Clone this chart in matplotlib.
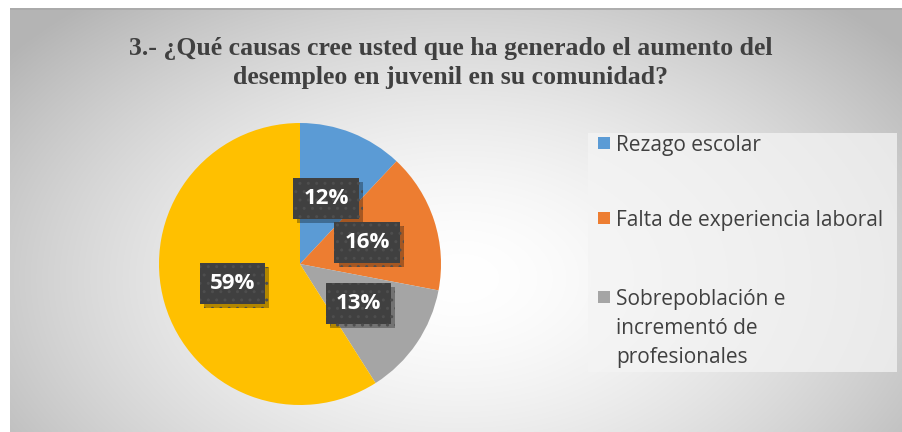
import numpy as np
import matplotlib
matplotlib.use("Agg")
import matplotlib.pyplot as plt
from matplotlib.patches import Rectangle
import matplotlib.patheffects as pe

title = "3.- ¿Qué causas cree usted que ha generado el aumento del\ndesempleo en juvenil en su comunidad?"
categories = ["Rezago escolar", "Falta de experiencia laboral",
              "Sobrepoblación e\nincrementó de\nprofesionales", "Otros"]
values = [12, 16, 13, 59]
labels = ["12%", "16%", "13%", "59%"]
colors = ["#5B9BD5", "#ED7D31", "#A5A5A5", "#FFC000"]
legend_count = 3  # only three entries visible in the reference legend

W, H = 903, 432
fig = plt.figure(figsize=(W / 100, H / 100), dpi=100)
fig.patch.set_facecolor("white")

# background radial gradient panel
x0, y0 = 10, 8
bg = fig.add_axes([x0 / W, 0, 1 - x0 / W, 1 - y0 / H])
bg.set_axis_off()
bh, bw = H - y0, W - x0
yy, xx = np.mgrid[0:bh, 0:bw]
d = np.sqrt(((xx - 450) / 520.0) ** 2 + ((yy - 270) / 330.0) ** 2)
v = 1 - 0.25 * np.clip(d, 0, 1.1) ** 1.6
img = np.dstack([v, v, v])
bg.imshow(img, aspect="auto", extent=[0, 1, 0, 1], origin="upper")
bg.set_xlim(0, 1)
bg.set_ylim(0, 1)
bg.plot([0, 1], [0.997, 0.997], color="#a8a8a8", lw=1.2, transform=bg.transAxes)

# legend area lighter panel
lg = fig.add_axes([588 / W, (H - 372) / H, (897 - 588) / W, (372 - 133) / H])
lg.set_axis_off()
lg.set_xlim(0, 1)
lg.set_ylim(0, 1)
lg.add_patch(Rectangle((0, 0), 1, 1, transform=lg.transAxes,
                       facecolor="#f4f4f4", edgecolor="none", alpha=0.75))

fig.text(451 / W, 1 - 63 / H, title, ha="center", va="center",
         family="Liberation Serif", fontweight="bold", fontsize=18.5,
         color="#404040", linespacing=1.35)

# pie
cx, cy, r = 300, 264, 141
ax = fig.add_axes([(cx - r) / W, (H - cy - r) / H, 2 * r / W, 2 * r / H])
ax.set_aspect("equal")
wedges, _ = ax.pie(values, colors=colors, startangle=90, counterclock=False,
                   radius=1.0, wedgeprops=dict(linewidth=0))
ax.set_xlim(-1, 1)
ax.set_ylim(-1, 1)

for w, lab in zip(wedges, labels):
    ang = np.deg2rad((w.theta1 + w.theta2) / 2)
    px, py = 0.5 * np.cos(ang), 0.5 * np.sin(ang)
    t = ax.text(px, py, lab, ha="center", va="center",
                fontsize=16, fontweight="bold", family="Open Sans", color="white",
                bbox=dict(boxstyle="square,pad=0.45", facecolor="#404040",
                          edgecolor="#4e4e4e", linewidth=0, hatch=".."))
    t.get_bbox_patch().set_path_effects(
        [pe.SimplePatchShadow(offset=(3, -3), shadow_rgbFace="black", alpha=0.3),
         pe.Normal()])

# legend drawn manually (square aligned to first line as in reference)
leg_y = [143, 218, 297]
sq = 12
for i in range(legend_count):
    yc = leg_y[i]
    fig.patches.append(Rectangle((598 / W, (H - yc - sq / 2) / H), sq / W, sq / H,
                                 transform=fig.transFigure, figure=fig,
                                 facecolor=colors[i], edgecolor="none"))
    fig.text(616 / W, (H - yc + 8) / H, categories[i], ha="left", va="top",
             family="Open Sans", fontsize=15, color="#404040", linespacing=1.5)

fig.savefig("out.png", dpi=100)
